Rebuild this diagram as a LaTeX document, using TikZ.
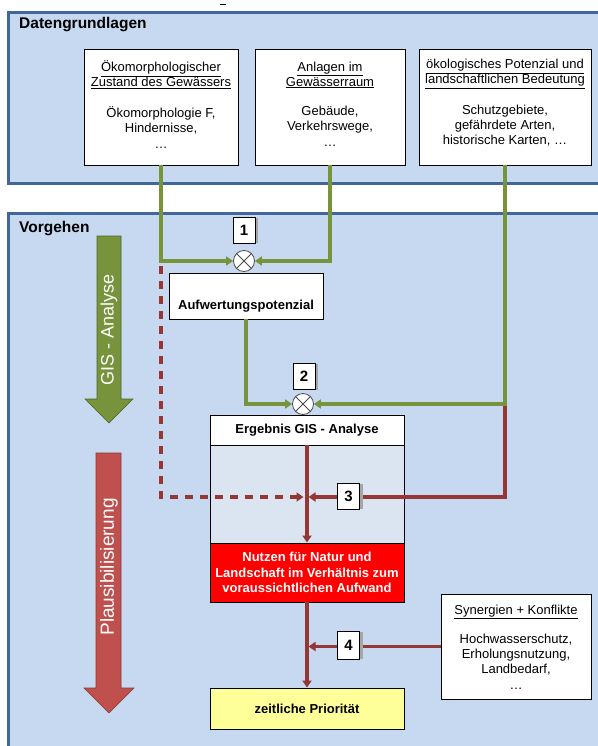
\documentclass[tikz,border=0pt]{standalone}
\usepackage{fontspec}
\setmainfont{Liberation Sans}
\usetikzlibrary{arrows.meta}
\definecolor{panelfill}{HTML}{C6D9F0}
\definecolor{panelborder}{HTML}{41679A}
\definecolor{gline}{HTML}{77933C}
\definecolor{gdark}{HTML}{4F6228}
\definecolor{rline}{HTML}{953735}
\definecolor{rarrow}{HTML}{C0504D}
\definecolor{rdark}{HTML}{8C3836}
\definecolor{midfill}{HTML}{DBE5F1}
\definecolor{yfill}{HTML}{FFFF99}
\tikzset{
  x=1pt, y=-1pt,
  panel/.style={fill=panelfill, draw=panelborder, line width=3pt},
  databox/.style={draw=black, fill=white, line width=0.9pt, rectangle, inner sep=0pt},
  normtext/.style={font=\fontsize{13}{15}\selectfont, align=center, inner sep=0pt},
  titletext/.style={font=\fontsize{15.5}{18}\selectfont\bfseries, inner sep=0pt, anchor=west},
  boldtext/.style={font=\fontsize{13}{15}\selectfont\bfseries, align=center, inner sep=0pt},
  numbox/.style={draw=black, fill=white, line width=0.9pt, minimum width=22pt, minimum height=26pt, inner sep=0pt, font=\fontsize{15}{18}\selectfont\bfseries},
  numshadow/.style={fill=gray!70, draw=none},
  opcirc/.style={circle, draw=gray!60!black, fill=white, line width=0.8pt, minimum size=21pt, inner sep=0pt,
    path picture={\draw[gray!60!black, line width=0.8pt] (path picture bounding box.north east) -- (path picture bounding box.south west)
      (path picture bounding box.north west) -- (path picture bounding box.south east);}},
  gconn/.style={draw=gline, line width=3.5pt},
  rconn/.style={draw=rline, line width=3.5pt},
  gtip/.style={-{Triangle[length=7pt,width=9pt]}},
  rtip/.style={-{Triangle[length=7pt,width=9pt]}},
  dashline/.style={dash pattern=on 8pt off 7pt},
}
\begin{document}
\begin{tikzpicture}
\useasboundingbox (0,0) rectangle (597,746);
\fill[white] (0,0) rectangle (597,746);
% tiny mark at top
\draw[black, line width=1.2pt] (220,4.5) -- (226,4.5);
% panels
\draw[panel] (8,13) rectangle (610,183);
\node[titletext] (tdat) at (19,25) {Datengrundlagen};
\draw[panel] (8,213) rectangle (610,760);
\node[titletext] (tvor) at (19,229) {Vorgehen};

% data boxes
\node[databox, minimum width=154pt, minimum height=116pt] (b1) at (161,107) {};
\node[normtext] (b1t) at (161,75) {\underline{Ökomorphologischer}\\\underline{Zustand des Gewässers}};
\node[normtext, anchor=north] (b1b) at (161,106) {Ökomorphologie F,\\Hindernisse,\\[1pt]…};

\node[databox, minimum width=150pt, minimum height=116pt] (b2) at (330,107) {};
\node[normtext] (b2t) at (330,75) {\underline{Anlagen im}\\\underline{Gewässerraum}};
\node[normtext, anchor=north] (b2b) at (330,106) {Gebäude,\\Verkehrswege,\\[1pt]…};

\node[databox, minimum width=172pt, minimum height=116pt] (b3) at (505,107) {};
\node[normtext] (b3t) at (505,74) {\underline{ökologisches Potenzial und}\\\underline{landschaftlichen Bedeutung}};
\node[normtext, anchor=north] (b3b) at (505,105) {Schutzgebiete,\\gefährdete Arten,\\historische Karten, …};

% big arrows
\draw[fill=gline, draw=gdark, line width=0.6pt]
  (97,236) -- (121,236) -- (121,399) -- (133,399) -- (109,423) -- (85,399) -- (97,399) -- cycle;
\node[rotate=90, text=white, font=\fontsize{18}{20}\selectfont, inner sep=0pt] (gis) at (109,330) {GIS - Analyse};
\draw[fill=rarrow, draw=rdark, line width=0.6pt]
  (96,453) -- (121,453) -- (121,688) -- (134,688) -- (109,713) -- (84,688) -- (96,688) -- cycle;
\node[rotate=90, text=white, font=\fontsize{19}{21}\selectfont, inner sep=0pt] (plaus) at (109,567) {Plausibilisierung};

% Aufwertungspotenzial
\node[databox, minimum width=154pt, minimum height=46pt] (auf) at (246,296) {};
\node[boldtext] (auft) at (246,306) {Aufwertungspotenzial};

% Ergebnis column
\node[databox, minimum width=194pt, minimum height=30pt, font=\fontsize{13}{15}\selectfont\bfseries] (ergh) at (307,430) {Ergebnis GIS - Analyse};
\node[databox, fill=midfill, minimum width=194pt, minimum height=98pt] (ergm) at (307,494) {};
\node[databox, fill=red, minimum width=194pt, minimum height=59pt, text=white, font=\fontsize{13}{15.5}\selectfont\bfseries, align=center] (nutzen) at (307,572.5) {Nutzen für Natur und\\Landschaft im Verhältnis zum\\voraussichtlichen Aufwand};
\node[databox, fill=yfill, minimum width=194pt, minimum height=41pt, font=\fontsize{13}{15}\selectfont\bfseries] (zeit) at (307,708.5) {zeitliche Priorität};

% Synergien
\node[databox, minimum width=150pt, minimum height=105pt] (syn) at (516,646.5) {};
\node[normtext] (synt) at (516,612) {\underline{Synergien + Konflikte}};
\node[normtext, anchor=north] (synb) at (516,634) {Hochwasserschutz,\\Erholungsnutzung,\\Landbedarf,\\[1pt]…};

% operator circles
\node[opcirc] (c1) at (244,261) {};
\node[opcirc] (c2) at (303,404) {};

% green connectors
\draw[gconn, gtip] (b1.south) |- (c1.west);
\draw[gconn, gtip] (b2.south) |- (c1.east);
\draw[gconn, gtip] (auf.south) |- (c2.west);
\draw[gconn, gtip] (b3.south) |- (c2.east);
\coordinate (gcorner) at (b3.south |- c2.east);

% red connectors
\coordinate (dstart) at (161,266);
\node[inner sep=0pt, minimum size=0pt] (n3pos) at (348.5,497) {};
\node[inner sep=0pt, minimum size=0pt] (n4pos) at (348.5,646.5) {};
\draw[rconn, rtip, shorten >=1.5pt] ([yshift=-1.75pt]gcorner) |- (ergh.south |- n3pos);
\draw[rconn, rtip, dashline, shorten >=3.5pt] (dstart) |- (ergh.south |- n3pos);
\draw[rconn, rtip] (ergh.south) -- (nutzen.north);
\draw[rconn, rtip] (nutzen.south) -- (zeit.north);
\draw[rconn, rtip, shorten >=1.5pt] (syn.west) -- (ergh.south |- n4pos);

% number labels
\fill[numshadow] (255,218) rectangle (258,243);
\node[numbox] (n1) at (244,230) {1};
\fill[numshadow] (315,364) rectangle (318,390);
\node[numbox] (n2) at (304,376.5) {2};
\fill[numshadow] (360,484) rectangle (363,509);
\node[numbox] (n3) at (348.5,496) {3};
\fill[numshadow] (360,632) rectangle (363,659);
\node[numbox, minimum height=28pt] (n4) at (348.5,645) {4};
\end{tikzpicture}
\end{document}
